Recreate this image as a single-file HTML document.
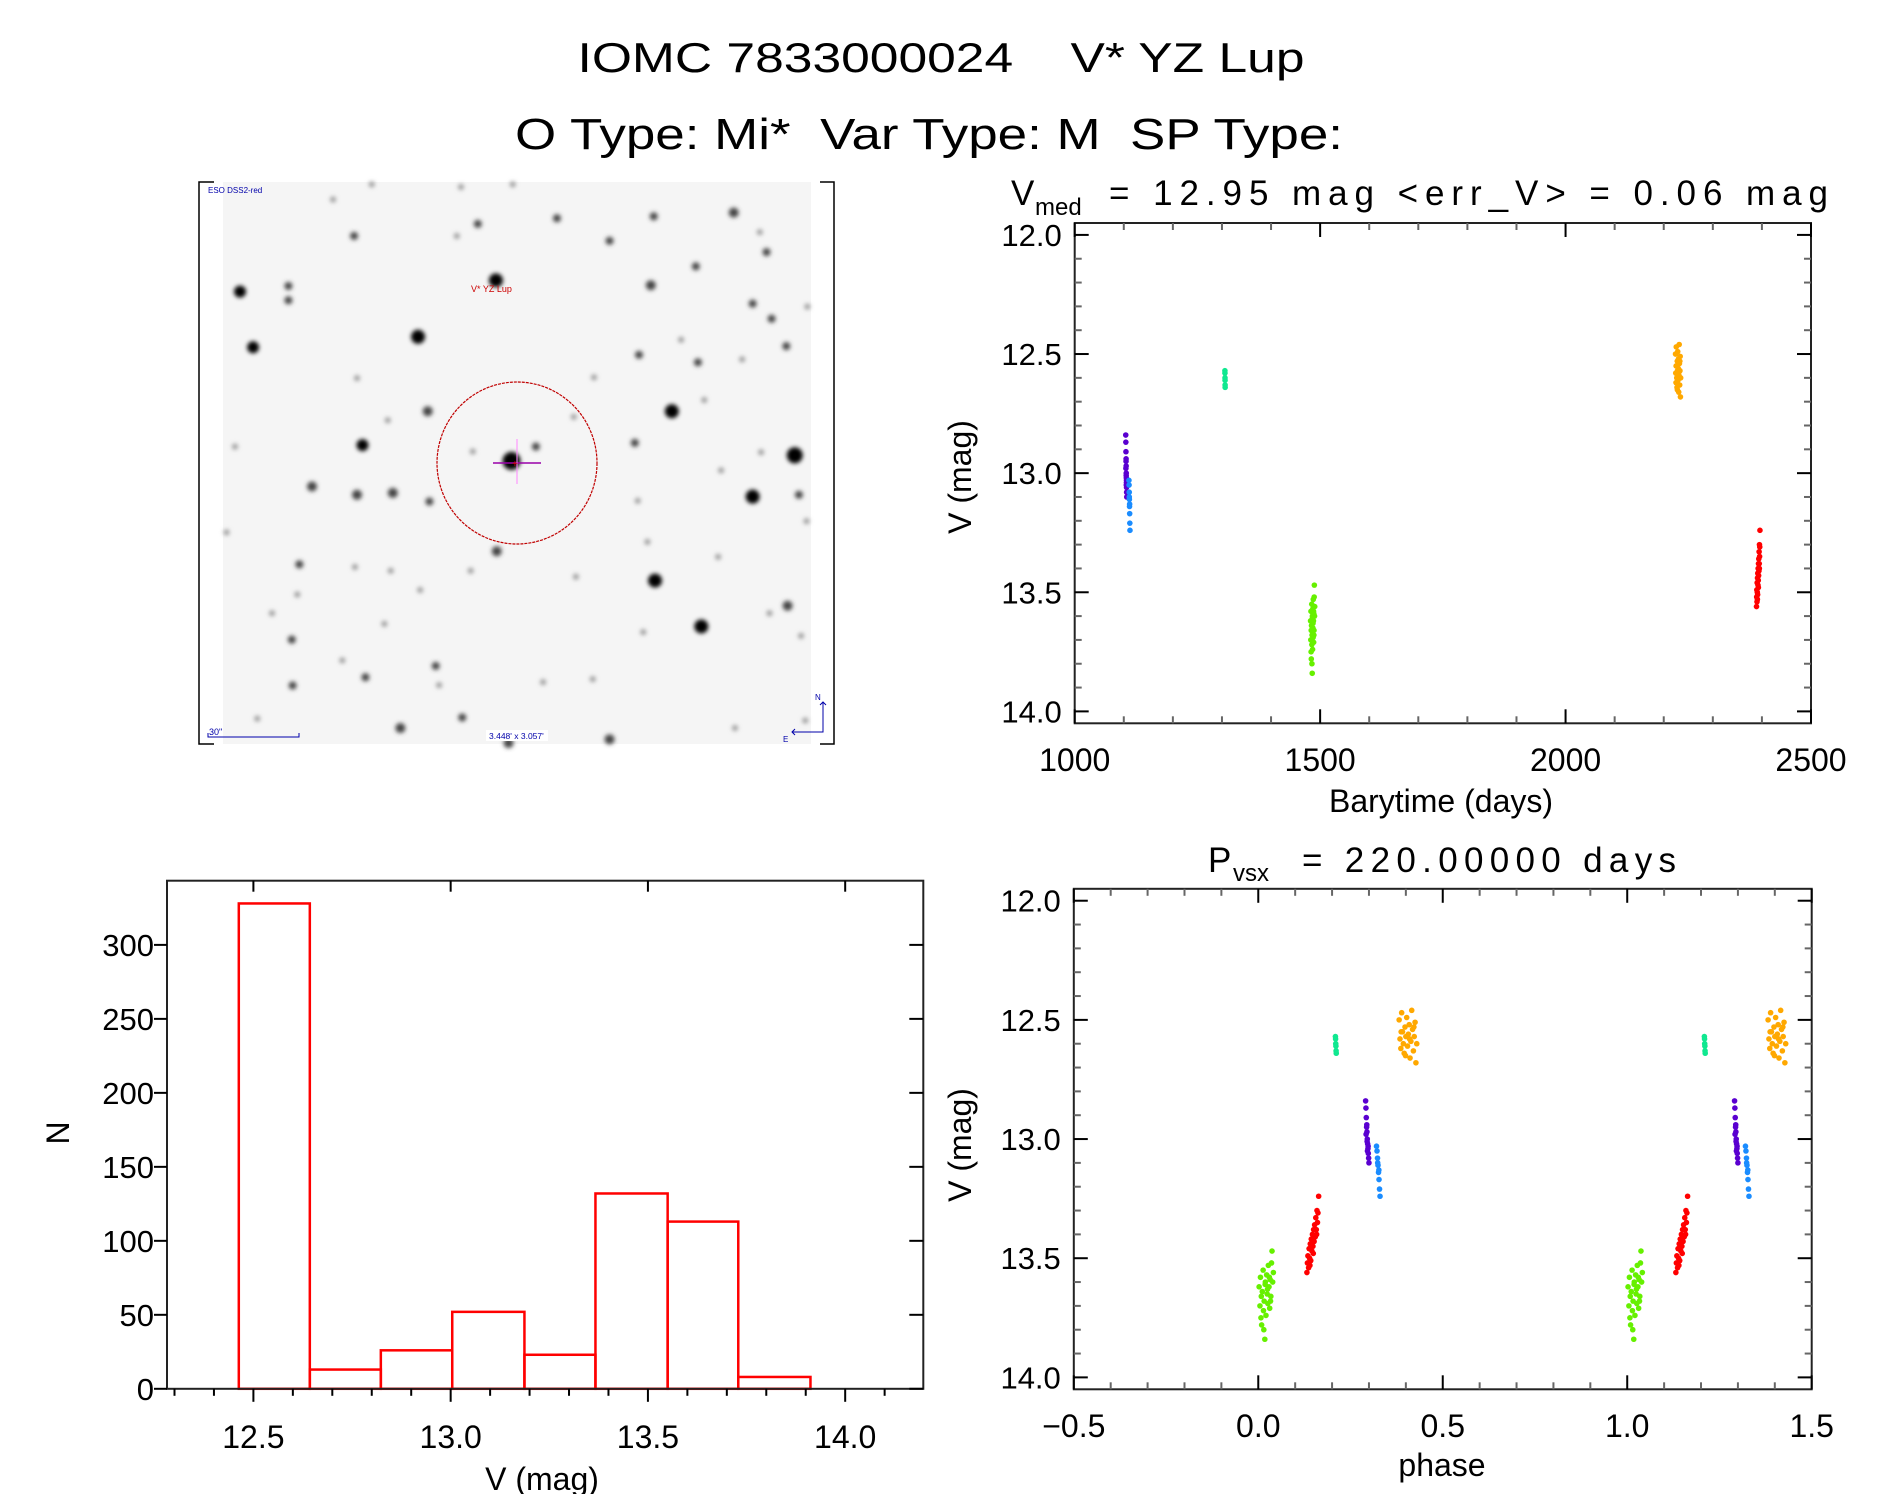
<!DOCTYPE html>
<html><head><meta charset="utf-8"><style>
html,body{margin:0;padding:0;background:#fff;}
svg{display:block;}
text{font-family:"Liberation Sans",sans-serif;fill:#000;}
</style></head><body>
<svg id="fig" width="1889" height="1494" viewBox="0 0 1889 1494" xmlns="http://www.w3.org/2000/svg">
<defs>
<filter id="blur2" x="-50%" y="-50%" width="200%" height="200%"><feGaussianBlur stdDeviation="2.2"/></filter>
</defs>
<rect x="0" y="0" width="1889" height="1494" fill="#fff"/>
<text x="941" y="72" font-size="42" text-anchor="middle" textLength="727" lengthAdjust="spacingAndGlyphs" xml:space="preserve">IOMC 7833000024    V* YZ Lup</text>
<text x="929" y="149" font-size="44" text-anchor="middle" textLength="828" lengthAdjust="spacingAndGlyphs" xml:space="preserve">O Type: Mi*  Var Type: M  SP Type:</text>

<g id="finder">
<rect x="223" y="182" width="588" height="562" fill="#f5f5f5"/>
<g id="stars" filter="url(#blur2)"></g>
<path d="M214 182 H199 V744 H214 M820 182 H834 V744 H820" fill="none" stroke="#000" stroke-width="1.5"/>
<ellipse cx="517" cy="463" rx="80" ry="81" fill="none" stroke="#c00000" stroke-width="1.2" stroke-dasharray="3,1"/>
<line x1="493" y1="463" x2="541" y2="463" stroke="#9900aa" stroke-width="1.5"/>
<line x1="517" y1="439" x2="517" y2="484" stroke="#ff88ff" stroke-width="1"/>
<text x="512" y="467" font-size="10" style="fill:#dd0000">+</text>
<text x="208" y="193" font-size="8" style="fill:#0000aa">ESO DSS2-red</text>
<text x="471" y="292" font-size="9" style="fill:#cc0000">V* YZ Lup</text>
<text x="209" y="735" font-size="9" style="fill:#0000aa">30"</text>
<path d="M208 733 V737 H299 V733" fill="none" stroke="#0000aa" stroke-width="1"/>
<rect x="486" y="730" width="62" height="11" fill="#fff"/>
<text x="489" y="739" font-size="8.5" style="fill:#0000aa">3.448' x 3.057'</text>
<path d="M823 702 V732 H792 M820 705 L823 702 L826 705 M795 729 L792 732 L795 735" fill="none" stroke="#0000aa" stroke-width="1"/>
<text x="815" y="700" font-size="8" style="fill:#0000aa">N</text>
<text x="783" y="742" font-size="8" style="fill:#0000aa">E</text>
</g>

<g id="lc"></g>
<g id="ph"></g>
<g id="hist"></g>
</svg>
<script>
// ---------- data ----------
const purpleT=[1104,1104.2,1104.4,1104.6,1104.8,1105,1105.2,1105.4,1105.6,1105.8,1106,1104.3,1104.9,1105.5,1105.1,1104.7];
const purpleM=[12.84,12.87,12.91,12.95,12.97,13.00,13.02,13.04,13.06,13.08,13.10,12.98,13.01,13.03,13.05,12.94];
const blueT=[1110.5,1110.8,1111.1,1111.4,1111.7,1112,1112.3,1112.6,1111.2,1111.9];
const blueM=[13.03,13.05,13.08,13.11,13.14,13.17,13.21,13.24,13.10,13.13];
const tealT=[1306,1306.1,1306.2,1306.3,1306.4,1306.5];
const tealM=[12.57,12.58,12.60,12.61,12.63,12.64];
const greenT=[1480.5,1481,1481.3,1481.8,1482,1482.4,1482.9,1483.1,1483.5,1483.9,1484.2,1484.6,1485,1485.3,1485.7,1486,1486.4,1486.8,1487.1,1487.5,1487.9,1488.2,1488.6,1489,1481.6,1483.3,1485.5,1487.3,1484.1,1486.6];
const greenM=[13.62,13.70,13.58,13.66,13.78,13.64,13.55,13.72,13.68,13.84,13.60,13.74,13.57,13.65,13.69,13.53,13.62,13.71,13.59,13.66,13.52,13.47,13.60,13.56,13.75,13.80,13.63,13.68,13.61,13.58];
const orangeT=[2224,2224.5,2225,2225.5,2226,2226.5,2227,2227.5,2228,2228.5,2229,2229.5,2230,2230.5,2231,2231.5,2232,2232.5,2233,2233.5,2234,2234.5,2225.2,2227.8,2230.2,2232.8];
const orangeM=[12.50,12.58,12.62,12.47,12.55,12.60,12.64,12.53,12.57,12.49,12.61,12.56,12.52,12.66,12.59,12.46,12.54,12.63,12.57,12.51,12.68,12.60,12.55,12.65,12.58,12.53];
const redT=[2389,2389.3,2389.6,2390,2390.3,2390.6,2391,2391.3,2391.6,2392,2392.3,2392.6,2393,2393.3,2393.6,2394,2394.3,2394.6,2395,2395.3,2395.6,2396,2390.8,2392.8,2394.8];
const redM=[13.56,13.52,13.49,13.54,13.46,13.50,13.44,13.51,13.42,13.47,13.40,13.45,13.38,13.43,13.36,13.41,13.33,13.38,13.30,13.35,13.31,13.24,13.53,13.48,13.40];
const period=220;
const epoch=1480;
const histEdges=[12.463,12.643,12.823,13.004,13.187,13.367,13.550,13.729,13.912];
const histCounts=[328,13,26,52,23,132,113,8];
const lcXTicks=[1000,1500,2000,2500];
const magTicks=[12.0,12.5,13.0,13.5,14.0];
const phXTicks=[-0.5,0.0,0.5,1.0,1.5];
const histXTicks=[12.5,13.0,13.5,14.0];
const histYTicks=[0,50,100,150,200,250,300];

const NS='http://www.w3.org/2000/svg';
function mk(parent,tag,attrs){const e=document.createElementNS(NS,tag);for(const k in attrs)e.setAttribute(k,attrs[k]);parent.appendChild(e);return e;}
function fmt1(v){return (v<0?'\u2212':'')+Math.abs(v).toFixed(1);}

// ---------- finder stars ----------
const starList=[[715,280,7],[107,310,6],[138,458,6],[530,430,7],[752,760,9],[1133,628,7],[1425,745,8],[1325,855,7],[1093,1078,7],[1203,1200,7],[398,718,6],[553,628,5],[385,850,5],[470,845,5],[278,828,5],[557,868,4],[717,1000,5],[810,722,4],[1083,293,5],[1190,243,4],[1055,478,4],[1045,712,4],[1408,1145,5],[1280,100,5],[1090,110,4],[672,130,4],[860,115,4],[378,162,4],[985,175,4],[1358,205,4],[1325,342,4],[1370,382,4],[1405,455,4],[1155,438,3],[1195,498,4],[1300,490,3],[1455,350,3],[948,538,3],[900,643,3],[458,652,3],[222,295,4],[222,333,4],[1435,850,4],[1243,1015,3],[1075,975,3],[248,1035,4],[380,1042,3],[465,1052,3],[655,1052,3],[243,1115,3],[450,1193,3],[230,1235,4],[232,1357,4],[405,1335,4],[572,1305,4],[580,1356,3],[350,1290,3],[635,1442,4],[488,1470,5],[985,1500,5],[745,1510,5],[1283,1470,3],[945,1340,3],[827,1348,3],[1450,1450,3],[148,1445,3],[1065,1215,3],[905,1068,3],[1052,866,3],[1345,737,3],[1250,785,3],[1210,598,3],[420,25,3],[632,32,3],[755,25,3],[328,65,3],[622,162,3],[1342,152,3],[385,540,3],[95,722,3],[660,735,3],[1453,920,3],[183,1165,3],[535,1103,3],[75,950,3],[1440,1225,3],[1365,1165,3]];
const sg=document.getElementById('stars');
starList.forEach(s=>{
  const c=mk(sg,'circle',{cx:195+s[0]/2.376,cy:175+s[1]/2.658,r:s[2]*1.0,fill:s[2]>=6?'#000':(s[2]>=4?'#444':'#999')});
  
  
});

// ---------- generic axis drawing ----------
function drawBox(g,x0,y0,x1,y1,name){
  const r=mk(g,'rect',{x:x0,y:y0,width:x1-x0,height:y1-y0,fill:'none',stroke:'#222','stroke-width':2});
  
  
}
function tick(g,x1,y1,x2,y2,col,name){
  const l=mk(g,'line',{x1:x1,y1:y1,x2:x2,y2:y2,stroke:col,'stroke-width':2});
  
  
}
function label(g,x,y,txt,anchor,size,name){
  const t=mk(g,'text',{x:x,y:y,'font-size':size,'text-anchor':anchor});
  t.textContent=txt;
  
  
  return t;
}

const LC={x0:1074.7,x1:1811,y0:223,y1:723.3};
function xT(t){return LC.x0+(t-1000)/1500*(LC.x1-LC.x0);}
function yM(m){return LC.y0+(m-11.95)/2.1*(LC.y1-LC.y0);}
const PH={x0:1073.8,x1:1811.7,y0:888.8,y1:1389.3};
function xP(p){return PH.x0+(p+0.5)/2*(PH.x1-PH.x0);}
function yP(m){return PH.y0+(m-11.95)/2.1*(PH.y1-PH.y0);}

function magAxes(g,X,yf,name){
  for(let i=0;i<=20;i++){const m=12.0+i*0.1;const y=yf(m);const maj=(i%5===0);
    tick(g,X.x0,y,X.x0+(maj?14:7),y,maj?'#000':'#666',name+'-ytick');
    tick(g,X.x1,y,X.x1-(maj?14:7),y,maj?'#000':'#666',name+'-ytick-right');}
  magTicks.forEach(m=>label(g,X.x0-13,yf(m)+11,m.toFixed(1),'end',31,name+'-ytick-label'));
}
const lc=document.getElementById('lc');
drawBox(lc,LC.x0,LC.y0,LC.x1,LC.y1,'light-curve-frame');
magAxes(lc,LC,yM,'lc');
for(let t=1000;t<=2500;t+=100){const x=xT(t);const maj=(t%500===0);
  tick(lc,x,LC.y1,x,LC.y1-(maj?14:7),maj?'#000':'#666','lc-xtick');
  tick(lc,x,LC.y0,x,LC.y0+(maj?14:7),maj?'#000':'#666','lc-xtick-top');}
lcXTicks.forEach(t=>label(lc,xT(t),771,String(t),'middle',32,'lc-xtick-label'));
label(lc,1441,812,'Barytime (days)','middle',32,'lc-x-axis-title');
let yt=label(lc,0,0,'V (mag)','middle',32,'lc-y-axis-title');
yt.setAttribute('transform','translate(971,477) rotate(-90)');
label(lc,1011,205,'V','start',35,'lc-subtitle-v');
label(lc,1035,215,'med','start',24,'lc-subtitle-sub');
let st=label(lc,1109,205,'=  12.95 mag <err_V> = 0.06 mag','start',35,'lc-subtitle');
st.setAttribute('textLength','719');st.setAttribute('xml:space','preserve');

const series=[['purple','#5a00d0',purpleT,purpleM],['blue','#1a8cff',blueT,blueM],['teal','#10e890',tealT,tealM],['green','#66f000',greenT,greenM],['orange','#ffa800',orangeT,orangeM],['red','#ff0000',redT,redM]];
series.forEach(s=>{
  for(let i=0;i<s[2].length;i++){
    const c=mk(lc,'circle',{cx:xT(s[2][i]),cy:yM(s[3][i]),r:2.8,fill:s[1]});
    
    
  }
});

const ph=document.getElementById('ph');
drawBox(ph,PH.x0,PH.y0,PH.x1,PH.y1,'phase-frame');
magAxes(ph,PH,yP,'phase');
for(let i=0;i<=20;i++){const p=-0.5+i*0.1;const x=xP(p);const maj=(i%5===0);
  tick(ph,x,PH.y1,x,PH.y1-(maj?14:7),maj?'#000':'#666','phase-xtick');
  tick(ph,x,PH.y0,x,PH.y0+(maj?14:7),maj?'#000':'#666','phase-xtick-top');}
phXTicks.forEach(p=>label(ph,xP(p),1437,fmt1(p),'middle',32,'phase-xtick-label'));
label(ph,1442,1476,'phase','middle',32,'phase-x-axis-title');
yt=label(ph,0,0,'V (mag)','middle',32,'phase-y-axis-title');
yt.setAttribute('transform','translate(971,1145) rotate(-90)');
label(ph,1208,872,'P','start',35,'phase-title-p');
label(ph,1233,881,'vsx','start',24,'phase-title-sub');
st=label(ph,1302,872,'= 220.00000 days','start',35,'phase-title');
st.setAttribute('textLength','374');
series.forEach(s=>{
  for(let i=0;i<s[2].length;i++){
    let p=((s[2][i]-epoch)/period)%1; if(p<0)p+=1;
    [p,p+1].forEach(pp=>{
      const c=mk(ph,'circle',{cx:xP(pp),cy:yP(s[3][i]),r:2.8,fill:s[1]});
      
      
    });
  }
});

const H={x0:167,x1:923.3,y0:880.7,y1:1388.8};
function xH(v){return H.x0+(v-12.281)/1.917*(H.x1-H.x0);}
function yH(n){return H.y1-n*1.4797;}
const hg=document.getElementById('hist');
for(let i=0;i<histCounts.length;i++){
  const r=mk(hg,'rect',{x:xH(histEdges[i]),y:yH(histCounts[i]),width:xH(histEdges[i+1])-xH(histEdges[i]),height:H.y1-yH(histCounts[i]),fill:'none',stroke:'#ff0000','stroke-width':2.5});
  
  
}
drawBox(hg,H.x0,H.y0,H.x1,H.y1,'histogram-frame');
for(let i=0;i<=18;i++){const v=12.3+i*0.1;const x=xH(v);const maj=Math.abs((v*2)-Math.round(v*2))<1e-6;
  tick(hg,x,H.y1,x,H.y1+(maj?13:7),'#000','hist-xtick');
  if(maj)tick(hg,x,H.y0,x,H.y0+11,'#000','hist-xtick-top');}
histXTicks.forEach(v=>label(hg,xH(v),1448,v.toFixed(1),'middle',32,'hist-xtick-label'));
histYTicks.forEach(n=>{const y=yH(n);
  tick(hg,H.x0,y,H.x0-13,y,'#000','hist-ytick');
  tick(hg,H.x1,y,H.x1-14,y,'#000','hist-ytick-right');
  label(hg,154,y+11,String(n),'end',31,'hist-ytick-label');});
label(hg,542,1490,'V (mag)','middle',32,'hist-x-axis-title');
yt=label(hg,0,0,'N','middle',32,'hist-y-axis-title');
yt.setAttribute('transform','translate(69,1133) rotate(-90)');
</script>
</body></html>
